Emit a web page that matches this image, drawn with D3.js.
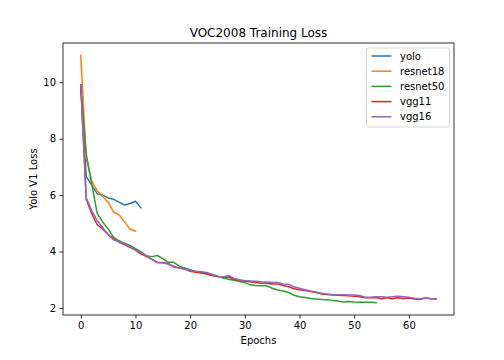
<!DOCTYPE html>
<html><head><meta charset="utf-8">
<script src="https://cdn.jsdelivr.net/npm/d3@7"></script>
<style>body{margin:0;background:#fff}svg{display:block}text{font-family:"DejaVu Sans",sans-serif;fill:#000}</style>
</head><body>
<svg id="c" width="504" height="360"></svg>
<script>
const seriesNames = ["yolo","resnet18","resnet50","vgg11","vgg16"];
const colors = ["#1f77b4","#ff7f0e","#2ca02c","#d62728","#9467bd"];
const yolo = [9.9,6.65,6.35,6.05,6.0,5.9,5.85,5.75,5.65,5.7,5.78,5.55];
const resnet18 = [10.95,7.3,6.5,6.15,5.95,5.75,5.4,5.3,5.05,4.8,4.72];
const resnet50 = [9.85,7.45,6.4,5.35,5.05,4.8,4.5,4.38,4.3,4.22,4.1,4.0,3.85,3.82,3.86,3.75,3.62,3.62,3.48,3.42,
  3.36,3.3,3.26,3.22,3.17,3.14,3.06,3.02,2.98,2.94,2.9,2.82,2.8,2.79,2.79,2.7,2.64,2.6,2.55,2.45,
  2.4,2.37,2.34,2.32,2.3,2.29,2.27,2.25,2.21,2.23,2.21,2.2,2.2,2.2,2.19];
const vgg11 = [9.9,5.85,5.35,4.95,4.8,4.6,4.45,4.33,4.25,4.15,4.05,3.92,3.82,3.72,3.62,3.6,3.58,3.45,3.42,3.38,
  3.3,3.27,3.24,3.2,3.15,3.12,3.08,3.1,3.02,2.98,2.95,2.93,2.9,2.88,2.88,2.85,2.85,2.8,2.75,2.68,
  2.65,2.62,2.58,2.55,2.5,2.48,2.46,2.45,2.44,2.43,2.42,2.4,2.36,2.36,2.37,2.33,2.36,2.33,2.36,2.34,
  2.35,2.32,2.3,2.35,2.33,2.32];
const vgg16 = [9.9,5.9,5.45,5.1,4.85,4.6,4.42,4.35,4.28,4.18,4.05,3.97,3.85,3.72,3.6,3.6,3.55,3.48,3.42,3.38,
  3.33,3.3,3.28,3.26,3.2,3.12,3.1,3.15,3.05,3.0,2.97,2.96,2.95,2.93,2.92,2.9,2.9,2.85,2.84,2.75,
  2.7,2.65,2.6,2.57,2.52,2.5,2.48,2.47,2.47,2.46,2.46,2.44,2.38,2.38,2.4,2.4,2.38,2.4,2.42,2.4,
  2.38,2.35,2.32,2.36,2.33,2.32];
const xTicks = [0,10,20,30,40,50,60];
const yTicks = [2,4,6,8,10];
const title = "VOC2008 Training Loss";
const xLabel = "Epochs";
const yLabel = "Yolo V1 Loss";

const allSeries = [yolo,resnet18,resnet50,vgg11,vgg16];
const svg = d3.select("#c");
const L=63, R=454, T=43, B=315;

const xMax = d3.max(allSeries, s => s.length-1);
const xPad = xMax*0.05;
const x = d3.scaleLinear().domain([-xPad, xMax+xPad]).range([L,R]);
const yMin = d3.min(allSeries, s=>d3.min(s)), yMaxV = d3.max(allSeries, s=>d3.max(s));
const yPad = (yMaxV-yMin)*0.05;
const y = d3.scaleLinear().domain([yMin-yPad, yMaxV+yPad]).range([B,T]);

const line = d3.line().x((d,i)=>x(i)).y(d=>y(d));
allSeries.forEach((s,k)=>{
  svg.append("path").attr("d", line(s)).attr("fill","none")
    .attr("stroke", colors[k]).attr("stroke-width",1.5)
    .attr("stroke-linejoin","round").attr("stroke-linecap","square");
});

const xa = svg.append("g").attr("transform",`translate(0,${B})`)
  .call(d3.axisBottom(x).tickValues(xTicks).tickSize(3.5).tickPadding(3.5).tickFormat(d3.format("d")));
const ya = svg.append("g").attr("transform",`translate(${L},0)`)
  .call(d3.axisLeft(y).tickValues(yTicks).tickSize(3.5).tickPadding(3.5).tickFormat(d3.format("d")));
[xa,ya].forEach(g=>{
  g.select(".domain").remove();
  g.selectAll("line").attr("stroke","#000").attr("stroke-width",0.8);
  g.selectAll("text").attr("font-size",10).attr("font-family","DejaVu Sans").attr("fill","#000");
});
svg.append("rect").attr("x",L).attr("y",T).attr("width",R-L).attr("height",B-T)
  .attr("fill","none").attr("stroke","#000").attr("stroke-width",0.8);

svg.append("text").attr("x",(L+R)/2).attr("y",T-6).attr("text-anchor","middle").attr("font-size",12).text(title);
svg.append("text").attr("x",(L+R)/2).attr("y",344).attr("text-anchor","middle").attr("font-size",10).text(xLabel);
svg.append("text").attr("transform",`translate(37,${(T+B)/2}) rotate(-90)`).attr("text-anchor","middle").attr("font-size",10).text(yLabel);

// legend
const lg = svg.append("g");
lg.append("rect").attr("x",366.5).attr("y",48).attr("width",83).attr("height",79).attr("rx",2)
  .attr("fill","#fff").attr("fill-opacity",0.8).attr("stroke","#ccc").attr("stroke-width",0.8);
seriesNames.forEach((n,i)=>{
  const yy = 56 + i*15.2;
  lg.append("line").attr("x1",371.5).attr("x2",391.5).attr("y1",yy).attr("y2",yy)
    .attr("stroke",colors[i]).attr("stroke-width",1.5);
  lg.append("text").attr("x",400).attr("y",yy+3.5).attr("font-size",10).text(n);
});
</script>
</body></html>
